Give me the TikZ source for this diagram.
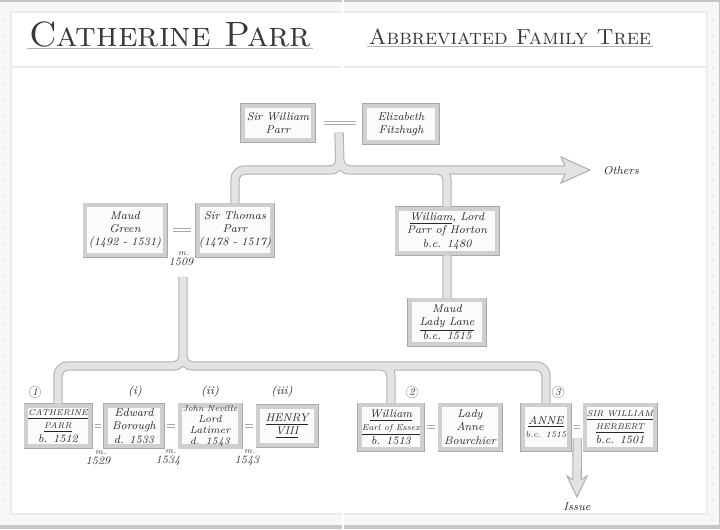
\documentclass[tikz,border=0pt]{standalone}
\usetikzlibrary{calc}
\tikzset{
  frame/.style={draw=gray!60, double=gray!15, double distance=0.8pt, line width=0.6pt},
  dot/.style={gray!55},
  person/.style={fill=gray!3, draw=gray!38, line width=3pt,
    preaction={draw=gray!68, line width=3.8pt},
    align=center, inner sep=0pt, text=black!85,
    font=\itshape\fontsize{8}{9.4}\selectfont},
  boxsize/.style 2 args={minimum width=#1*0.025cm-3.8pt, minimum height=#2*0.025cm-3.8pt},
  wed/.style={draw=gray!65, line width=0.7pt, double=white, double distance=1.8pt},
  pipe/.style={draw=gray!62, line width=0.75pt, double=gray!22, double distance=5.2pt, rounded corners=7pt},
  pipehead/.style={draw=gray!62, line width=0.75pt, fill=gray!22, line join=miter},
  mar/.style={align=center, text=black!80, font=\itshape\fontsize{8}{7}\selectfont},
  num/.style={circle, draw=gray!62, inner sep=0.6pt, text=black!85, font=\itshape\fontsize{7.5}{8}\selectfont},
  rom/.style={text=black!85, font=\itshape\fontsize{8.2}{9}\selectfont},
  ttl/.style={text=black!78, inner sep=1pt}
}
\newcommand\sml{\fontsize{6}{7.4}\selectfont}
\newcommand\mm{{\fontsize{6}{6}\selectfont\hspace*{4pt}m.}}
\begin{document}
\begin{tikzpicture}[x=0.025cm, y=-0.025cm]
  \useasboundingbox (0,0) rectangle (720,529);
  % page, dotted band and frame
  \fill[gray!45] (0,0) rectangle (720,529);
  \fill[gray!6] (0,2) rectangle (719,525);
  \foreach \x in {8,24,...,712} {\fill[dot] (\x,6) circle (0.45pt); \fill[dot] (\x,520) circle (0.45pt);}
  \foreach \y in {20,36,...,508} {\fill[dot] (5,\y) circle (0.45pt); \fill[dot] (713,\y) circle (0.45pt);}
  \filldraw[frame, fill=white] (11,12) rectangle (707,514);
  \draw[frame] (11,67) -- (707,67);
  \draw[white, line width=0.8pt] (343,0) -- (343,68) (343,512) -- (343,529);

  % titles
  \node[ttl, font=\fontsize{25}{28}\selectfont] (title) at (170,34) {\textsc{Catherine Parr}};
  \draw[gray!60, line width=0.8pt] (title.south west) -- (title.south east);
  \node[ttl, font=\fontsize{15.5}{18}\selectfont] (sub) at (510,37) {\textsc{Abbreviated Family Tree}};
  \draw[gray!60, line width=0.8pt] (sub.south west) -- (sub.south east);

  % first generation
  \node[person, boxsize={76}{40}] (swp) at (278,123) {Sir William\\Parr};
  \node[person, boxsize={78}{42}] (eliz) at (401,124) {Elizabeth\\Fitzhugh};
  \draw[wed] ($(swp.east)+(9,0)$) -- ($(swp.east -| eliz.west)+(-7,0)$);

  % second generation
  \node[person, boxsize={85}{55}] (maud) at (125,230) {Maud\\Green\\(1492 - 1531)};
  \node[person, boxsize={80}{55}] (stp) at (235,230) {Sir Thomas\\Parr\\(1478 - 1517)};
  \draw[wed] ($(maud.east)+(6,0)$) -- ($(stp.west)+(-5,0)$);
  \node[mar] (m1) at (181,259) {\mm\\1509};
  \node[person, boxsize={105}{50}] (wlp) at (447,231) {\underline{William}, Lord\\Parr of Horton\\b.c. 1480};
  \node[person, boxsize={80}{49}] (mll) at (447,322) {Maud\\\underline{Lady Lane}\\b.c. 1515};
  \node[rom] (others) at (621,171) {Others};
  \coordinate (othtip) at (590,170);

  % third generation
  \node[person, boxsize={69}{46}] (cath) at (58,426) {\sml\underline{CATHERINE}\\\sml\underline{PARR}\\b. 1512};
  \node[person, boxsize={62}{46}] (edw) at (134,426) {Edward\\Borough\\d. 1533};
  \node[person, boxsize={65}{46}, font=\itshape\fontsize{7.2}{7.9}\selectfont] (john) at (210,426) {\sml John Neville\\Lord\\Latimer\\d. 1543};
  \node[person, boxsize={63}{44}] (henry) at (287,426) {\underline{HENRY}\\\underline{VIII}};
  \draw[wed] ($(cath.east)+(3,0)$) -- ($(edw.west)+(-3,0)$);
  \draw[wed] ($(edw.east)+(3,0)$) -- ($(john.west)+(-3,0)$);
  \draw[wed] ($(john.east)+(3,0)$) -- ($(henry.west)+(-3,0)$);
  \node[num] (n1) at (35,392) {1};
  \node[rom] (r1) at (135,392) {(i)};
  \node[rom] (r2) at (210,392) {(ii)};
  \node[rom] (r3) at (282,392) {(iii)};
  \node[mar] (m2) at (98,458) {\mm\\1529};
  \node[mar] (m3) at (168,458) {\mm\\1534};
  \node[mar] (m4) at (247,458) {\mm\\1543};

  \node[person, boxsize={68}{49}] (wee) at (391,427) {\underline{William}\\\sml\underline{Earl of Essex}\\b. 1513};
  \node[person, boxsize={65}{49}] (lab) at (470,427) {Lady\\Anne\\Bourchier};
  \draw[wed] ($(wee.east)+(3,0)$) -- ($(lab.west)+(-3,0)$);
  \node[num] (n2) at (412,392) {2};
  \node[person, boxsize={52}{49}] (anne) at (546,427) {\underline{ANNE}\\\sml b.c. 1515};
  \node[person, boxsize={75}{49}] (swh) at (620,427) {\sml\underline{SIR WILLIAM}\\\sml\underline{HERBERT}\\b.c. 1501};
  \draw[wed] ($(anne.east)+(3,0)$) -- ($(swh.west)+(-3,0)$);
  \node[num] (n3) at (558,392) {3};
  \node[rom] (issue) at (577,507) {Issue};
  \coordinate (isstip) at (577,497);

  % descent lines
  \coordinate (w1) at ($(swp.east)!.5!(eliz.west)$);
  \coordinate (j1) at (340,170);
  \coordinate (j2) at (183,366);
  \coordinate (w2) at ($(anne.east)!.5!(swh.west)$);
  \draw[pipe]
    ($(w1)+(0,9)$) -- (j1) -- (j1 -| stp.north) -- (stp.north)
    ($(w1)+(0,9)$) -- (j1) -- ($(othtip)+(-23,0)$)
    ($(j1 -| wlp.north)+(-40,0)$) -- (j1 -| wlp.north) -- (wlp.north)
    (wlp.south) -- (mll.north)
    ($(m1.south)+(2,6)$) -- (j2) -- (j2 -| cath.north) -- (cath.north)
    ($(m1.south)+(2,6)$) -- (j2) -- (j2 -| anne.north) -- (anne.north)
    ($(j2 -| wee.north)+(-40,0)$) -- (j2 -| wee.north) -- (wee.north)
    ($(w2)+(0,11)$) -- ($(isstip)+(0,-15)$);
  \filldraw[pipehead] (othtip) ++(-25,-4) -- ++(-4,-9) -- (othtip) -- ++(-29,13) -- ++(4,-9);
  \filldraw[pipehead] (isstip) ++(-4,-17) -- ++(-6,-4) -- (isstip) -- ++(10,-21) -- ++(-6,4);
\end{tikzpicture}
\end{document}
